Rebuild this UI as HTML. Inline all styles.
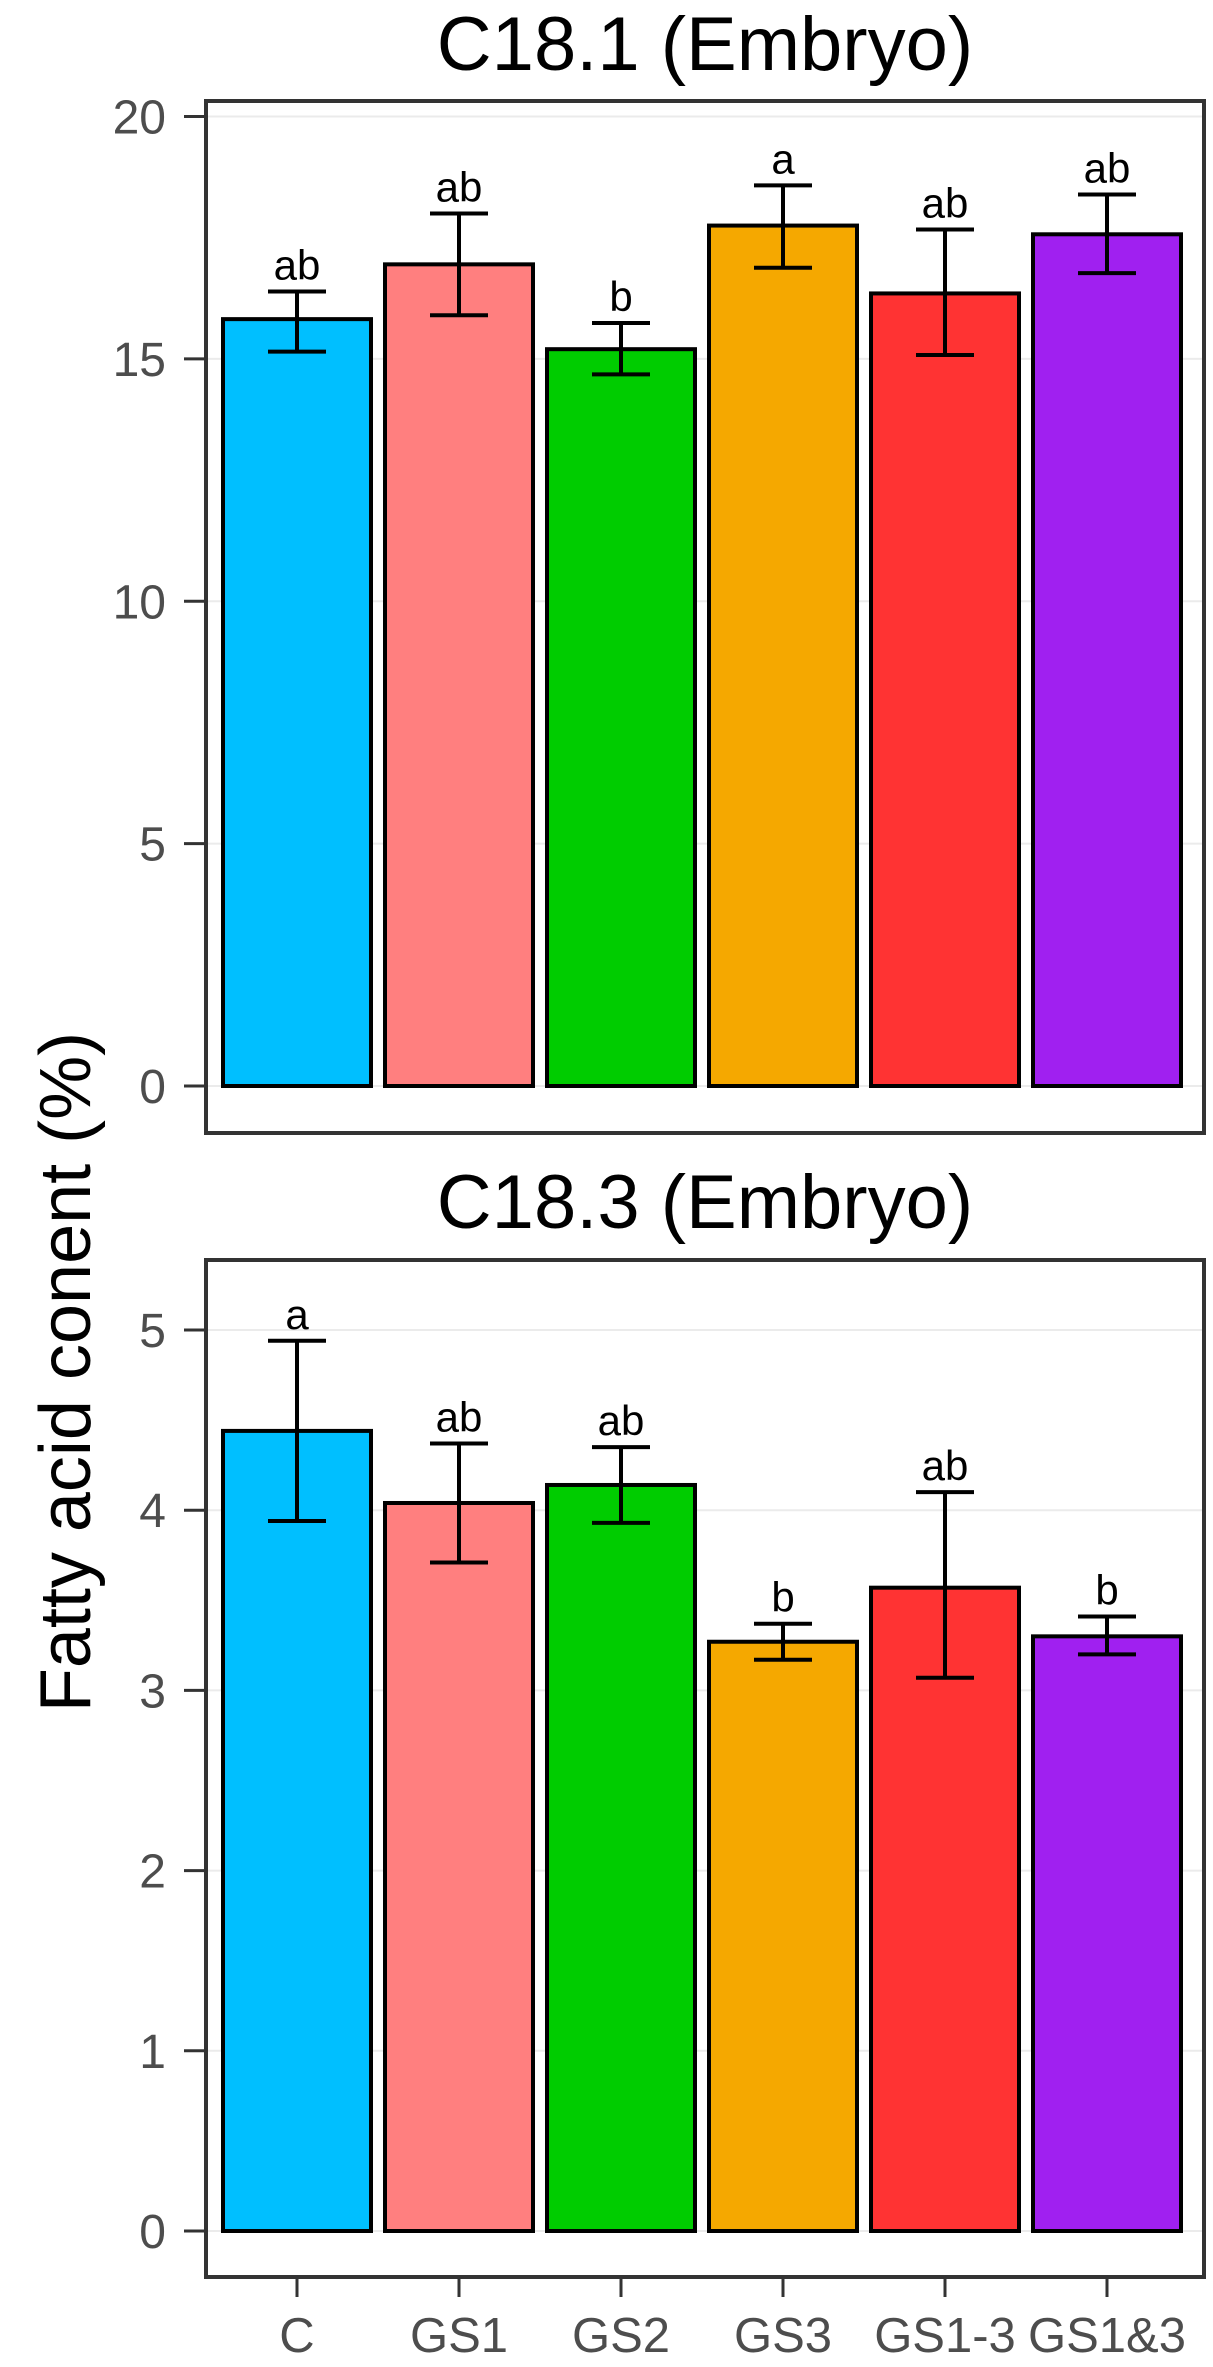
<!DOCTYPE html>
<html><head><meta charset="utf-8"><style>
html,body{margin:0;padding:0;background:#fff;}
svg{display:block;font-family:"Liberation Sans",Arial,sans-serif;}
</style></head><body>
<svg id="chart" width="1213" height="2367" viewBox="0 0 1213 2367" xmlns="http://www.w3.org/2000/svg">
<text x="0" y="0" transform="translate(90,1372) rotate(-90)" text-anchor="middle" font-size="72" fill="#000">Fatty acid conent (%)</text>
</svg>
<script>
const categories = ["C","GS1","GS2","GS3","GS1-3","GS1&3"];
const colors = ["#00BFFF","#FF7F7F","#00CC00","#F5A800","#FF3333","#A020F0"];
const p1Means = [15.82,16.95,15.20,17.75,16.35,17.57];
const p1Upper = [16.39,18.00,15.74,18.58,17.67,18.39];
const p1Lower = [15.15,15.90,14.68,16.88,15.08,16.77];
const p1Letters = ["ab","ab","b","a","ab","ab"];
const p1Ticks = [0,5,10,15,20];
const p2Means = [4.44,4.04,4.14,3.27,3.57,3.30];
const p2Upper = [4.94,4.37,4.35,3.37,4.10,3.41];
const p2Lower = [3.94,3.71,3.93,3.17,3.07,3.20];
const p2Letters = ["a","ab","ab","b","ab","b"];
const p2Ticks = [0,1,2,3,4,5];

const svg = document.getElementById('chart');
const NS = 'http://www.w3.org/2000/svg';
function mk(tag, attrs){const e=document.createElementNS(NS,tag);for(const k in attrs)e.setAttribute(k,attrs[k]);svg.appendChild(e);return e;}
const xC = i => 297 + i*162;
const BW = 148;

function panel(p, cfg){
  const y = v => cfg.y0 - (v - 0) * (cfg.y0 - cfg.yTop) / cfg.topVal;
  const t = mk('text',{x:705,y:cfg.titleY,'text-anchor':'middle','font-size':76,fill:'#000'});
  t.textContent = cfg.title;
  
  
  cfg.ticks.forEach(v=>{
    const g = mk('line',{x1:206,x2:1204,y1:y(v),y2:y(v),stroke:'#ebebeb','stroke-width':2});
    
    
    const tk = mk('line',{x1:184,x2:206,y1:y(v),y2:y(v),stroke:'#333','stroke-width':3});
    
    
    const l = mk('text',{x:166,y:y(v)+17,'text-anchor':'end','font-size':48,fill:'#4d4d4d'});
    l.textContent = v;
    
    
  });
  categories.forEach((c,i)=>{
    const b = mk('rect',{x:xC(i)-BW/2,y:y(cfg.means[i]),width:BW,height:cfg.y0-y(cfg.means[i]),fill:colors[i],stroke:'#000','stroke-width':4});
    
    
    const e1 = mk('line',{x1:xC(i),x2:xC(i),y1:y(cfg.upper[i]),y2:y(cfg.lower[i]),stroke:'#000','stroke-width':4});
    
    
    [cfg.upper[i],cfg.lower[i]].forEach(v=>{
      const cap = mk('line',{x1:xC(i)-29,x2:xC(i)+29,y1:y(v),y2:y(v),stroke:'#000','stroke-width':4});
      
      
    });
    const lt = mk('text',{x:xC(i),y:y(cfg.upper[i])-12,'text-anchor':'middle','font-size':42,fill:'#000'});
    lt.textContent = cfg.letters[i];
    
    
  });
  const f = mk('rect',{x:206,y:cfg.frameTop,width:998,height:cfg.frameBot-cfg.frameTop,fill:'none',stroke:'#333','stroke-width':4});
  
  
}
panel('panel-c181',{title:'C18.1 (Embryo)',titleY:70,y0:1086,yTop:116.5,topVal:20,frameTop:101,frameBot:1133,ticks:p1Ticks,means:p1Means,upper:p1Upper,lower:p1Lower,letters:p1Letters});
panel('panel-c183',{title:'C18.3 (Embryo)',titleY:1228,y0:2231,yTop:1330,topVal:5,frameTop:1260,frameBot:2277,ticks:p2Ticks,means:p2Means,upper:p2Upper,lower:p2Lower,letters:p2Letters});
categories.forEach((c,i)=>{
  const tk = mk('line',{x1:xC(i),x2:xC(i),y1:2277,y2:2297,stroke:'#333','stroke-width':3});
  
  
  const l = mk('text',{x:xC(i),y:2352,'text-anchor':'middle','font-size':49,fill:'#4d4d4d'});
  l.textContent = c;
  
  
});
</script>
</body></html>
